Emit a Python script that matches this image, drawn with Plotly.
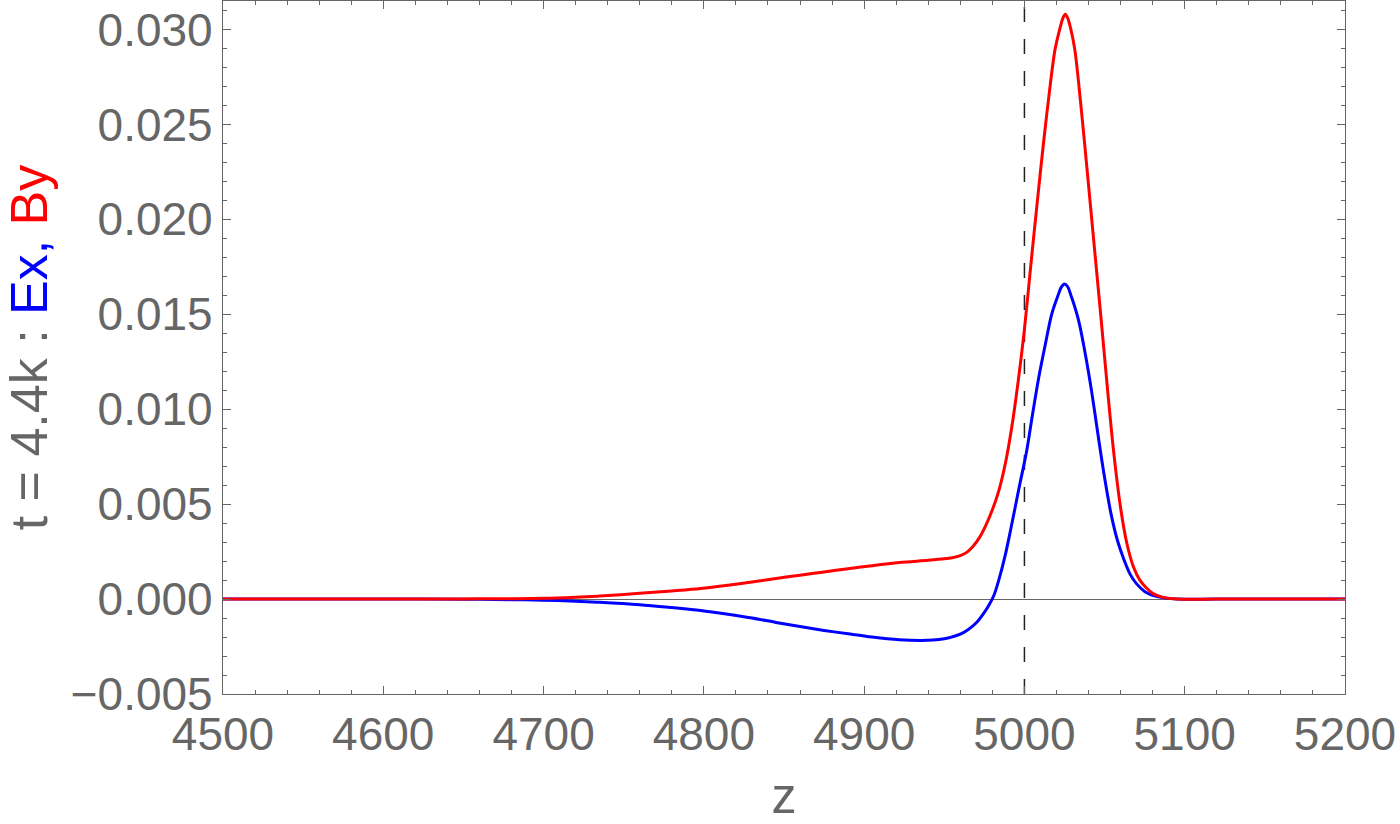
import plotly.graph_objects as go

# ---- data ----
z_by = [4500, 4550, 4600, 4650, 4680, 4700, 4720, 4735, 4760, 4780, 4798, 4815, 4830, 4845,
        4860, 4875, 4890, 4905, 4922, 4940, 4950, 4955, 4960, 4964, 4968, 4972, 4976, 4980,
        4984, 4988, 4992, 4996, 5000, 5004, 5008, 5012, 5016, 5019, 5022, 5024, 5025.5, 5027,
        5029, 5031.5, 5035, 5040, 5044, 5048, 5052, 5056, 5060, 5064, 5068, 5072, 5076, 5080,
        5086, 5095, 5120, 5160, 5200]
by_vals = [0, 0, 0, 0.00001, 0.00002, 0.00004, 0.0001, 0.00016, 0.0003, 0.00043, 0.00056, 0.00073,
           0.0009, 0.00108, 0.00126, 0.00143, 0.0016, 0.00176, 0.00192, 0.00204, 0.00212, 0.00218,
           0.00229, 0.00246, 0.00278, 0.00325, 0.0039, 0.0047, 0.0057, 0.0071, 0.0090, 0.0114, 0.0142,
           0.0176, 0.0209, 0.0241, 0.0270, 0.0289, 0.0300, 0.0306, 0.0308, 0.0306, 0.0300, 0.0289,
           0.0262, 0.0218, 0.0182, 0.0146, 0.0109, 0.0075, 0.0048, 0.0029, 0.0017, 0.0010, 0.0006,
           0.0003, 0.0001, 0, 0, 0, 0]

z_ex = [4500, 4550, 4600, 4650, 4680, 4700, 4720, 4735, 4760, 4780, 4798, 4815, 4830, 4845,
        4860, 4875, 4890, 4905, 4922, 4935, 4943, 4950, 4955, 4960, 4965, 4970, 4975, 4978,
        4981, 4984, 4988, 4992, 4997, 5001.4, 5005, 5009, 5013, 5017, 5021, 5023, 5025, 5027,
        5029, 5031, 5034, 5038, 5042, 5046, 5050, 5054, 5058, 5062, 5066, 5070, 5075, 5080,
        5088, 5095, 5120, 5160, 5200]
ex_vals = [0, 0, 0, -0.00001, -0.00003, -0.00006, -0.00011, -0.00017, -0.0003, -0.00045, -0.0006,
           -0.0008, -0.001, -0.00123, -0.00145, -0.00165, -0.00183, -0.002, -0.00214, -0.00218,
           -0.00216, -0.00209, -0.00199, -0.00185, -0.0016, -0.00125, -0.0007, -0.0003, 0.0002,
           0.0010, 0.0023, 0.0039, 0.0060, 0.0078, 0.0097, 0.0117, 0.0134, 0.0150, 0.0160, 0.01643,
           0.0166, 0.01645, 0.0160, 0.0155, 0.0146, 0.0129, 0.0109, 0.0086, 0.0064, 0.0045, 0.0031,
           0.0021, 0.0013, 0.0008, 0.0004, 0.0002, 0.00005, 0, 0, 0, 0]

marker_z = 5000
x_range = [4500, 5200]
y_range = [-0.005, 0.0315]

GRAY = "#666666"
FONT = "Liberation Sans, Arial, Helvetica, sans-serif"

fig = go.Figure()
fig.add_trace(go.Scatter(x=z_ex, y=ex_vals, mode="lines", name="Ex",
                         line=dict(color="#0000ff", width=3, shape="spline", smoothing=0.9)))
fig.add_trace(go.Scatter(x=z_by, y=by_vals, mode="lines", name="By",
                         line=dict(color="#ff0000", width=3, shape="spline", smoothing=0.9)))

fig.add_shape(type="line", xref="x", yref="paper", x0=marker_z, x1=marker_z, y0=0, y1=1,
              line=dict(color="#222222", width=1.5, dash="15px,17px"), layer="below")

fig.update_layout(
    width=1400, height=824,
    margin=dict(l=223, r=55, t=1, b=130),
    plot_bgcolor="white", paper_bgcolor="white",
    showlegend=False,
    font=dict(family=FONT, color=GRAY),
)
fig.update_xaxes(
    range=x_range, dtick=100, tick0=4500, automargin=False,
    showgrid=False, zeroline=False,
    showline=True, linecolor=GRAY, linewidth=1.2, mirror="allticks",
    ticks="inside", ticklen=8, tickwidth=1, tickcolor=GRAY,
    minor=dict(dtick=20, ticks="inside", ticklen=4, tickcolor=GRAY, showgrid=False),
    tickfont=dict(size=46, color=GRAY, family=FONT),
    title=dict(text="z", font=dict(size=50, color=GRAY, family=FONT), standoff=22),
)
fig.update_yaxes(
    range=y_range, dtick=0.005, tick0=0, tickformat=".3f", automargin=False,
    showgrid=False, zeroline=True, zerolinecolor=GRAY, zerolinewidth=1,
    showline=True, linecolor=GRAY, linewidth=1.2, mirror="allticks",
    ticks="inside", ticklen=8, tickwidth=1, tickcolor=GRAY,
    minor=dict(dtick=0.001, ticks="inside", ticklen=4, tickcolor=GRAY, showgrid=False),
    tickfont=dict(size=46, color=GRAY, family=FONT),
    ticklabelstandoff=0,
    title=dict(text="t = 4.4k : <span style='color:#0000ff'>Ex,</span> <span style='color:#ff0000'>By</span>",
               font=dict(size=52, color=GRAY, family=FONT), standoff=24),
)

fig.write_html("out.html", config={"displayModeBar": False},
               post_script="document.body.style.margin='0';document.body.style.overflow='hidden';")
